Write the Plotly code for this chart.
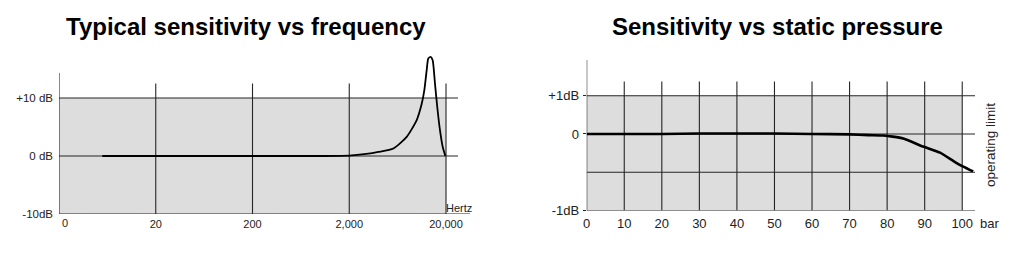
import plotly.graph_objects as go

# ---------------- data ----------------
freq_hz = [5.6, 20, 200, 1000, 2000, 3000, 4000, 5710, 7850, 9960, 11220, 11930, 12630,
           13120, 13900, 14560, 15380, 16250, 17340, 18490, 19700]
sens_db = [0, 0, 0, 0, 0.05, 0.35, 0.7, 1.3, 3.3, 6.2, 9.0, 11.3, 14.8,
           16.8, 17.1, 16.5, 12.5, 8.4, 4.4, 1.55, 0]

pressure_bar = [0, 10, 20, 30, 40, 50, 60, 70, 75, 79, 81.5, 84.3, 89.6, 94.1, 98.5, 102.9]
press_sens = [0, 0, 0, 0.01, 0.01, 0.01, 0, -0.01, -0.03, -0.04, -0.07, -0.12,
              -0.33, -0.49, -0.76, -0.98]

freq_ticks = [20, 200, 2000, 20000]
freq_ticktext = ["20", "200", "2,000", "20,000"]
freq_min, freq_max = 2, 35400
freq_grid_top = 12.5
freq_axis_top = 14.3
db_ticks = [10, 0, -10]
db_ticktext = ["+10 dB", "0 dB", "-10dB"]

press_ticks = [0, 10, 20, 30, 40, 50, 60, 70, 80, 90, 100]
press_ticktext = ["0", "10", "20", "30", "40", "50", "60", "70", "80", "90", "100"]
press_max = 103.4
press_grid_top = 1.37
press_axis_top = 1.93
pdb_ticks = [1, 0, -2]
pdb_ticktext = ["+1dB", "0", "-1dB"]
pdb_grid = [1, 0, -1]

GRID = "#262626"
FILL = "#dddddd"
FONT = "Liberation Sans, Arial, sans-serif"

fig = go.Figure()

def line(x, y, xa, ya, color=GRID, width=1.1):
    fig.add_trace(go.Scatter(x=x, y=y, mode="lines", xaxis=xa, yaxis=ya,
                             line=dict(color=color, width=width),
                             hoverinfo="skip", showlegend=False))

# ---------- left chart ----------
fig.add_trace(go.Scatter(x=[freq_min, 20000, 20000, freq_min, freq_min],
                         y=[-10, -10, 10, 10, -10], fill="toself", fillcolor=FILL,
                         mode="none", xaxis="x", yaxis="y", hoverinfo="skip",
                         showlegend=False))
for yv in [10, 0]:
    line([freq_min, 26600], [yv, yv], "x", "y")
for xv in freq_ticks:
    line([xv, xv], [-10, freq_grid_top], "x", "y")
line([freq_min, freq_min], [-10, freq_axis_top], "x", "y")
line([freq_min, freq_max], [-10, -10], "x", "y")
fig.add_trace(go.Scatter(x=freq_hz, y=sens_db, mode="lines", xaxis="x", yaxis="y",
                         line=dict(color="black", width=1.8, shape="spline", smoothing=0.6),
                         hoverinfo="skip", showlegend=False))

# ---------- right chart ----------
fig.add_trace(go.Scatter(x=[0, 100, 100, 0, 0], y=[-2, -2, 1, 1, -2], fill="toself",
                         fillcolor=FILL, mode="none", xaxis="x2", yaxis="y2",
                         hoverinfo="skip", showlegend=False))
for yv in pdb_grid:
    line([0, press_max], [yv, yv], "x2", "y2")
for xv in press_ticks[1:]:
    line([xv, xv], [-2, press_grid_top], "x2", "y2")
line([0, 0], [-2, press_axis_top], "x2", "y2")
line([0, press_max], [-2, -2], "x2", "y2")
fig.add_trace(go.Scatter(x=pressure_bar, y=press_sens, mode="lines", xaxis="x2", yaxis="y2",
                         line=dict(color="black", width=2.6, shape="spline", smoothing=0.35),
                         hoverinfo="skip", showlegend=False))

W, H = 1024, 258
def px(v): return v / W
def py(v): return 1 - v / H

axis_common = dict(showgrid=False, zeroline=False, showline=False, fixedrange=True,
                   automargin=False)

fig.update_layout(
    template="none",
    width=W, height=H, margin=dict(l=0, r=0, t=0, b=0, pad=0),
    paper_bgcolor="white", plot_bgcolor="rgba(0,0,0,0)",
    font=dict(family=FONT, color="#222"),
    xaxis=dict(type="log", domain=[px(59), px(470)],
               range=[0.30103, 4.549], anchor="y",
               tickvals=freq_ticks, ticktext=freq_ticktext, ticks="",
               tickfont=dict(size=11, color="#222"), ticklabelstandoff=2, **axis_common),
    yaxis=dict(domain=[py(214), py(51.6)], range=[-10, 18], anchor="x",
               tickvals=db_ticks, ticktext=db_ticktext, ticks="",
               tickfont=dict(size=11.5, color="#222"), ticklabelstandoff=5, **axis_common),
    xaxis2=dict(domain=[px(586.7), px(975)], range=[0, press_max], anchor="y2",
                tickvals=press_ticks, ticktext=press_ticktext, ticks="",
                tickfont=dict(size=13, color="#222"), ticklabelstandoff=3, **axis_common),
    yaxis2=dict(domain=[py(210.5), py(57.4)], range=[-2, 2], anchor="x2",
                tickvals=pdb_ticks, ticktext=pdb_ticktext, ticks="outside", ticklen=3,
                tickcolor=GRID, tickwidth=1,
                tickfont=dict(size=13, color="#222"), ticklabelstandoff=1, **axis_common),
    annotations=[
        dict(text="<b>Typical sensitivity vs frequency</b>", x=px(246), y=py(27),
             xref="paper", yref="paper", showarrow=False, xanchor="center", yanchor="middle",
             font=dict(size=24, color="black", family=FONT)),
        dict(text="<b>Sensitivity vs static pressure</b>", x=px(777), y=py(27),
             xref="paper", yref="paper", showarrow=False, xanchor="center", yanchor="middle",
             font=dict(size=24, color="black", family=FONT)),
        dict(text="0", x=0, y=0, xref="x domain", yref="y domain", xanchor="left",
             yanchor="top", showarrow=False, xshift=1, yshift=-1,
             font=dict(size=11, color="#222")),
        dict(text="Hertz", x=1, y=0, xref="x domain", yref="y domain", xanchor="right",
             yanchor="bottom", showarrow=False, yshift=-2, xshift=4,
             font=dict(size=11, color="#222")),
        dict(text="bar", x=px(978), y=py(223), xref="paper", yref="paper", xanchor="left",
             yanchor="middle", showarrow=False, font=dict(size=13, color="#222")),
        dict(text="operating limit", x=px(990), y=py(145), xref="paper", yref="paper",
             xanchor="center", yanchor="middle", showarrow=False, textangle=-90,
             font=dict(size=13.5, color="#222")),
    ],
)

fig.write_html("out.html")
